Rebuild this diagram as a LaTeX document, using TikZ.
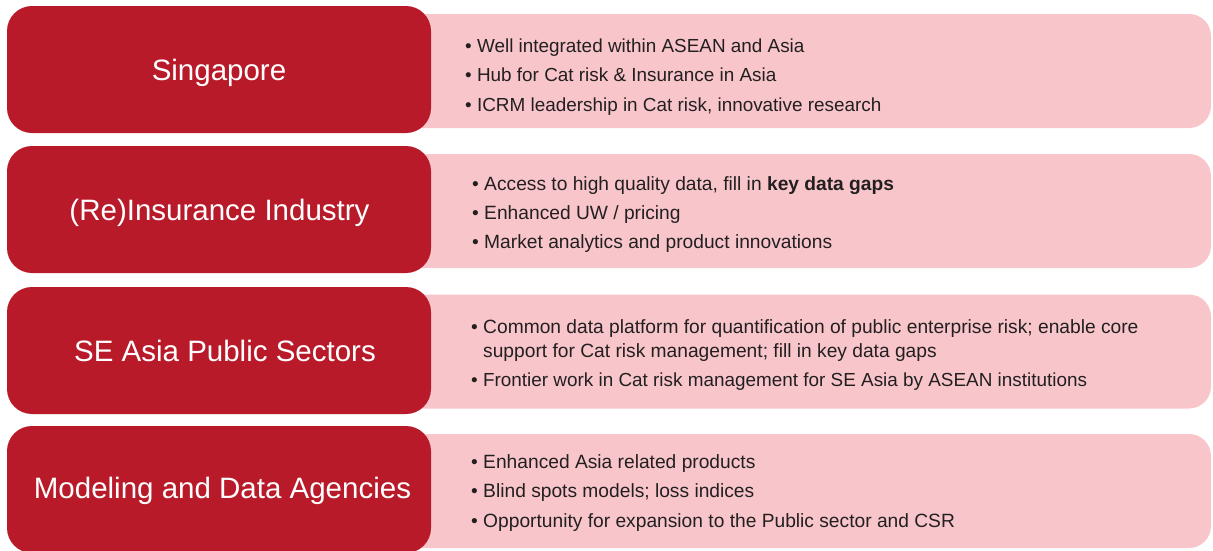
\documentclass[tikz,border=0pt]{standalone}
\usepackage{fontspec}
\setmainfont{Liberation Sans}
\definecolor{redbox}{RGB}{185,26,41}
\definecolor{pinkbox}{RGB}{248,198,202}
\definecolor{bodytext}{RGB}{35,31,32}
\tikzset{
  redtile/.style={fill=redbox, draw=none, rounded corners=25pt, minimum width=424pt, minimum height=127pt, inner sep=0pt},
  pinktile/.style={fill=pinkbox, draw=none, rounded corners=22pt, minimum width=811pt, minimum height=114pt, inner sep=0pt},
  label/.style={text=white, font=\fontsize{29.5}{34}\selectfont, anchor=base, inner sep=0pt},
  item/.style={text=bodytext, font=\fontsize{19.2}{23}\selectfont, anchor=base west, inner sep=0pt},
  smallitem/.style={item, font=\fontsize{18.9}{23}\selectfont}
}
\begin{document}
\begin{tikzpicture}[x=1pt,y=-1pt]
\useasboundingbox (0,0) rectangle (1213,550);
% row 1
\node[pinktile] (p1) at (805.5,71) {};
\node[redtile] (r1) at (219,69.5) {};
\node[label] (l1) at (219,80) {Singapore};
\node[smallitem] (a1) at (465,52) {• Well integrated within ASEAN and Asia};
\node[smallitem] (a2) at (465,81.5) {• Hub for Cat risk \& Insurance in Asia};
\node[smallitem] (a3) at (465,111) {• ICRM leadership in Cat risk, innovative research};
% row 2
\node[pinktile] (p2) at (805.5,211) {};
\node[redtile] (r2) at (219,209.5) {};
\node[label] (l2) at (219.5,220) {(Re)Insurance Industry};
\node[item] (b1) at (472,190) {• Access to high quality data, fill in \textbf{key data gaps}};
\node[item] (b2) at (472,219) {• Enhanced UW / pricing};
\node[item] (b3) at (472,248) {• Market analytics and product innovations};
% row 3
\node[pinktile] (p3) at (805.5,351.5) {};
\node[redtile] (r3) at (219,350.5) {};
\node[label] (l3) at (225,361) {SE Asia Public Sectors};
\node[item] (c1) at (471,333) {• Common data platform for quantification of public enterprise risk; enable core};
\node[item] (c2) at (483,357) {support for Cat risk management; fill in key data gaps};
\node[smallitem] (c3) at (471,386) {• Frontier work in Cat risk management for SE Asia by ASEAN institutions};
% row 4
\node[pinktile] (p4) at (805.5,491) {};
\node[redtile] (r4) at (219,489.5) {};
\node[label] (l4) at (222.5,498) {Modeling and Data Agencies};
\node[item] (d1) at (471,468) {• Enhanced Asia related products};
\node[item] (d2) at (471,497) {• Blind spots models; loss indices};
\node[item] (d3) at (471,527) {• Opportunity for expansion to the Public sector and CSR};
\end{tikzpicture}
\end{document}
